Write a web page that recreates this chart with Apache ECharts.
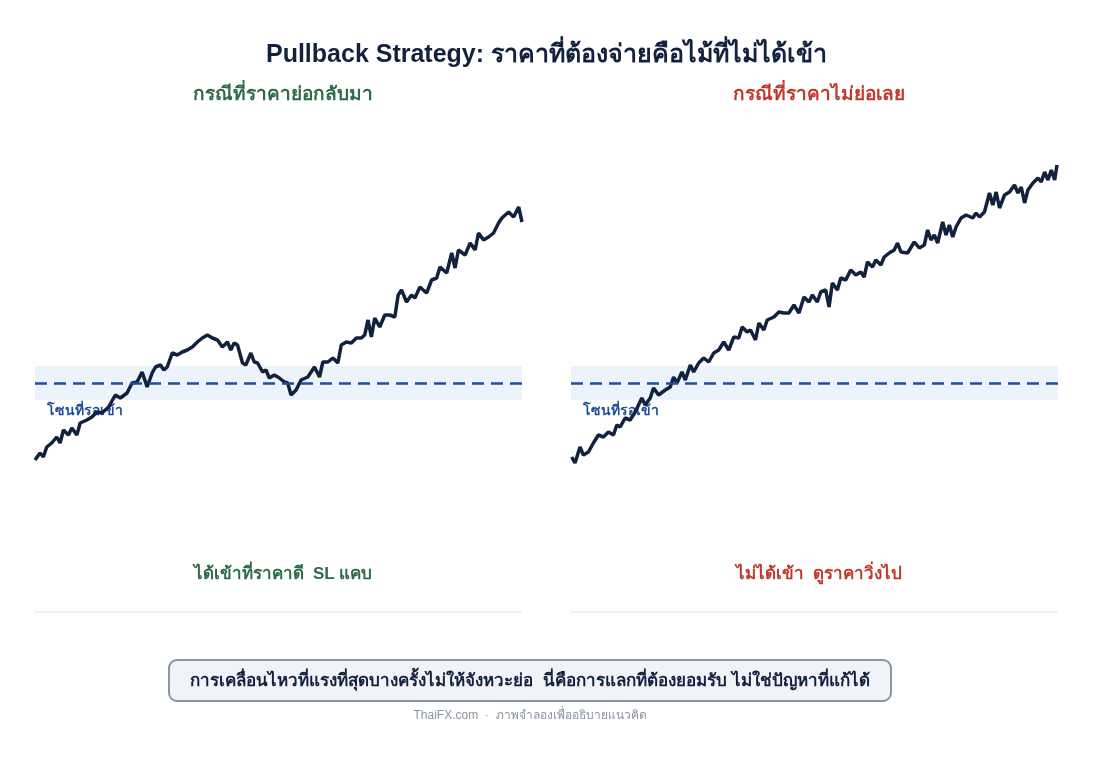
<!DOCTYPE html>
<html><head><meta charset="utf-8">
<script src="https://cdn.jsdelivr.net/npm/echarts@6/dist/echarts.min.js"></script>
<style>html,body{margin:0;background:#fff}#c{width:1093px;height:758px}</style>
</head><body><div id="c"></div>
<script>
// time steps and prices
var leftT = [15,30,40,50,65,80,90,100,115,125,140,150,170,185,200,215,235,255,270,290,305,320,335,350,365,375,390,400,410,425,440,455,470,485,500,515,530,545,560,575,590,600,610,620,635,645,660,670,680,695,705,715,730,745,760,770,780,795,810,830,850,865,875,890,905,920,930,945,960,975,990,1000,1010,1020,1030,1045,1060,1075,1090,1100,1110,1125,1140,1150,1165,1185,1200,1215,1225,1245,1260,1270,1280,1300,1315,1330,1340,1355,1370,1385,1400,1410,1430,1445,1460,1470];
var leftY = [460,453,457,447,443,437,443,430,435,428,435,423,420,417,412,413,407,395,398,393,383,382,372,387,373,367,365,370,367,353,355,352,350,347,342,338,335,338,340,347,342,350,343,345,363,365,353,362,363,372,370,378,375,378,382,383,395,390,380,377,367,377,362,362,358,363,345,342,343,338,338,335,320,337,318,327,315,315,317,295,290,302,295,298,287,293,280,278,267,273,253,268,250,255,243,250,233,240,237,233,223,218,212,217,207,222];
var rightT = [20,30,45,55,70,85,100,115,130,145,155,165,180,195,210,230,240,255,265,280,300,315,325,335,350,360,375,385,400,415,430,445,460,475,490,505,520,530,545,555,570,580,595,605,625,640,655,670,685,700,715,730,740,755,765,780,790,800,815,825,840,855,870,885,895,905,920,930,945,955,970,985,995,1005,1025,1045,1060,1075,1085,1095,1105,1115,1130,1140,1150,1160,1170,1185,1200,1220,1230,1240,1255,1270,1280,1290,1300,1315,1330,1345,1355,1365,1375,1385,1400,1415,1425,1435,1445,1455,1465,1472];
var rightY = [457,463,447,455,452,443,435,437,432,435,425,427,418,420,412,398,405,398,388,395,390,387,377,383,372,380,365,372,363,358,362,353,350,342,350,337,338,327,332,330,340,323,330,320,317,312,313,313,305,313,297,302,295,302,292,290,307,283,290,278,280,270,275,272,277,262,267,260,265,257,253,250,243,252,253,242,248,245,230,240,235,243,222,235,225,237,227,218,215,218,213,217,212,193,205,192,208,195,192,185,193,187,203,190,183,178,182,172,180,170,180,165];
var entryLevel = 162, zoneLow = 145, zoneHigh = 179;
var BASE = 545;
function toPrice(ys){ return ys.map(function(y){ return BASE - y; }); }
function pairs(ts, ps){ return ts.map(function(t,i){ return [t, ps[i]]; }); }
var leftP = toPrice(leftY), rightP = toPrice(rightY);

var chart = echarts.init(document.getElementById('c'));
var font = '"Liberation Sans", "Noto Sans", sans-serif';
function series(idx, data){
  return {
    type:'line', xAxisIndex:idx, yAxisIndex:idx, data:data, showSymbol:false,
    lineStyle:{color:'#12213d', width:3.5}, z:3,
    markArea:{silent:true, itemStyle:{color:'#edf3fb'}, data:[[{yAxis:zoneLow},{yAxis:zoneHigh}]]},
    markLine:{silent:true, symbol:'none', label:{show:false},
      lineStyle:{color:'#1a4f9c', width:2.5, type:[12,7]}, data:[{yAxis:entryLevel}]}
  };
}
chart.setOption({
  textStyle:{fontFamily:font},
  title:[
    {text:'Pullback Strategy: ราคาที่ต้องจ่ายคือไม้ที่ไม่ได้เข้า', left:'center', top:38,
      textStyle:{fontSize:25, fontWeight:'bold', color:'#12213d', fontFamily:font}},
    {text:'กรณีที่ราคาย่อกลับมา', left:278, textAlign:'center', top:80,
      textStyle:{fontSize:19, fontWeight:'bold', color:'#2e6b4a', fontFamily:font}},
    {text:'กรณีที่ราคาไม่ย่อเลย', left:814, textAlign:'center', top:80,
      textStyle:{fontSize:19, fontWeight:'bold', color:'#c0392b', fontFamily:font}},
    {text:'ได้เข้าที่ราคาดี  SL แคบ', left:278, textAlign:'center', top:561,
      textStyle:{fontSize:17, fontWeight:'bold', color:'#2e6b4a', fontFamily:font}},
    {text:'ไม่ได้เข้า  ดูราคาวิ่งไป', left:814, textAlign:'center', top:561,
      textStyle:{fontSize:17, fontWeight:'bold', color:'#c0392b', fontFamily:font}}
  ],
  grid:[
    {left:35, top:110, width:487, height:435},
    {left:571, top:110, width:487, height:435}
  ],
  xAxis:[
    {type:'value', gridIndex:0, min:15, max:1470, show:false},
    {type:'value', gridIndex:1, min:18, max:1475, show:false}
  ],
  yAxis:[
    {type:'value', gridIndex:0, min:0, max:435, show:false},
    {type:'value', gridIndex:1, min:0, max:435, show:false}
  ],
  series:[series(0, pairs(leftT, leftP)), series(1, pairs(rightT, rightP))],
  graphic:[
    {type:'text', left:47, top:404, style:{text:'โซนที่รอเข้า', fill:'#1f4e99', font:'bold 14px '+font}, z:2},
    {type:'text', left:583, top:404, style:{text:'โซนที่รอเข้า', fill:'#1f4e99', font:'bold 14px '+font}, z:2},
    {type:'line', shape:{x1:35, y1:612, x2:522, y2:612}, style:{stroke:'#dddddd', lineWidth:1}},
    {type:'line', shape:{x1:571, y1:612, x2:1058, y2:612}, style:{stroke:'#dddddd', lineWidth:1}},
    {type:'rect', shape:{x:169, y:660, width:722, height:41, r:8},
      style:{fill:'#f0f3f8', stroke:'#8a94a3', lineWidth:2}},
    {type:'text', x:530, y:681, style:{text:'การเคลื่อนไหวที่แรงที่สุดบางครั้งไม่ให้จังหวะย่อ  นี่คือการแลกที่ต้องยอมรับ ไม่ใช่ปัญหาที่แก้ได้',
      fill:'#12213d', font:'bold 17px '+font, textAlign:'center', textVerticalAlign:'middle'}},
    {type:'text', x:530, y:716, style:{text:'ThaiFX.com  ·  ภาพจำลองเพื่ออธิบายแนวคิด',
      fill:'#8a94a3', font:'12px '+font, textAlign:'center', textVerticalAlign:'middle'}}
  ]
});
</script></body></html>
